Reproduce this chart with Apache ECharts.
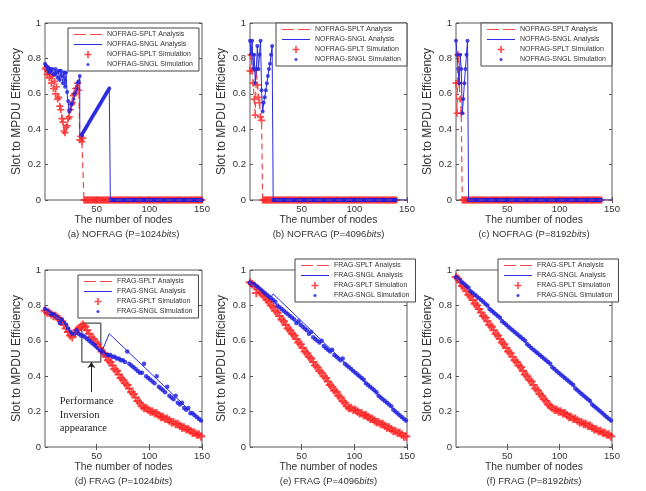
<!DOCTYPE html>
<html>
<head>
<meta charset="utf-8">
<script src="https://cdn.jsdelivr.net/npm/echarts@6/dist/echarts.min.js"></script>
<style>
html,body{margin:0;padding:0;background:#fff;}
#chart{width:646px;height:491px;}
</style>
</head>
<body>
<div id="chart"></div>
<script>
// ---------------- DATA ----------------
const xTicks = [50, 100, 150];
const captions = [
  '(a) NOFRAG (P=1024{i|bits})', '(b) NOFRAG (P=4096{i|bits})', '(c) NOFRAG (P=8192{i|bits})',
  '(d) FRAG (P=1024{i|bits})', '(e) FRAG (P=4096{i|bits})', '(f) FRAG (P=8192{i|bits})'
];
const panelIds = ['a', 'b', 'c', 'd', 'e', 'f'];
const seriesNamesNofrag = ['NOFRAG-SPLT Analysis', 'NOFRAG-SNGL Analysis', 'NOFRAG-SPLT Simulation', 'NOFRAG-SNGL Simulation'];
const seriesNamesFrag = ['FRAG-SPLT Analysis', 'FRAG-SNGL Analysis', 'FRAG-SPLT Simulation', 'FRAG-SNGL Simulation'];
const xLabel = 'The number of nodes';
const yLabel = 'Slot to MPDU Efficiency';
const noteText = 'Performance\nInversion\nappearance';

// --- (a) NOFRAG P=1024 ---
const aSpltAnaX = [1,2,3,4,5,6,7,8,9,10,11,12,13,14,15,16,17,18,19,20,21,22,23,24,25,26,27,28,29,30,31,32,33,34,35,36,37,38,150];
const aSpltAnaY = [0.75,0.74,0.72,0.73,0.70,0.71,0.68,0.69,0.65,0.66,0.62,0.63,0.58,0.57,0.55,0.52,0.48,0.45,0.40,0.38,0.40,0.43,0.45,0.48,0.51,0.53,0.56,0.58,0.60,0.62,0.64,0.66,0.64,0.36,0.35,0.34,0.35,0,0];
const aSnglAnaX = [1,2,3,4,5,6,7,8,9,10,11,12,13,14,15,16,17,18,19,20,21,22,23,24,25,26,27,28,29,30,31,32,33,34,34,62,63,150];
const aSnglAnaY = [0.77,0.77,0.73,0.75,0.72,0.75,0.72,0.74,0.71,0.70,0.74,0.71,0.69,0.73,0.67,0.74,0.70,0.66,0.73,0.64,0.72,0.60,0.55,0.49,0.51,0.53,0.55,0.57,0.59,0.61,0.63,0.65,0.67,0.70,0.36,0.64,0,0];
const aSpltSim = [
  0.74,0.75,0.71,0.73,0.69,0.71,0.66,0.70,0.63,0.67,
  0.60,0.64,0.57,0.58,0.53,0.51,0.46,0.44,0.39,0.38,
  0.41,0.42,0.46,0.47,0.51,0.54,0.55,0.59,0.60,0.63,
  0.63,0.66,0.62,0.34,0.36,0.33,0.35,0,0,0,
  0,0,0,0,0,0,0,0,0,0, 0,0,0,0,0,0,0,0,0,0,
  0,0,0,0,0,0,0,0,0,0, 0,0,0,0,0,0,0,0,0,0,
  0,0,0,0,0,0,0,0,0,0, 0,0,0,0,0,0,0,0,0,0,
  0,0,0,0,0,0,0,0,0,0, 0,0,0,0,0,0,0,0,0,0,
  0,0,0,0,0,0,0,0,0,0, 0,0,0,0,0,0,0,0,0,0,
  0,0,0,0,0,0,0,0,0,0
];
const aSnglSim = [
  0.77,0.76,0.73,0.75,0.72,0.74,0.73,0.74,0.71,0.71,
  0.74,0.72,0.69,0.73,0.68,0.73,0.70,0.66,0.72,0.64,
  0.72,0.61,0.56,0.50,0.51,0.54,0.55,0.57,0.60,0.61,
  0.63,0.66,0.67,0.70,0.36,0.37,0.38,0.39,0.40,0.41,
  0.42,0.43,0.44,0.45,0.46,0.47,0.48,0.49,0.50,0.51,
  0.52,0.53,0.54,0.55,0.56,0.57,0.58,0.59,0.60,0.61,
  0.62,0.63,0,0,0,0,0,0,0,0,
  0,0,0,0,0,0,0,0,0,0, 0,0,0,0,0,0,0,0,0,0,
  0,0,0,0,0,0,0,0,0,0, 0,0,0,0,0,0,0,0,0,0,
  0,0,0,0,0,0,0,0,0,0, 0,0,0,0,0,0,0,0,0,0,
  0,0,0,0,0,0,0,0,0,0, 0,0,0,0,0,0,0,0,0,0
];

// --- (b) NOFRAG P=4096 ---
const bSpltAnaX = [1,2,3,4,5,6,7,8,9,10,11,12,13,150];
const bSpltAnaY = [0.73,0.82,0.73,0.66,0.58,0.49,0.73,0.66,0.58,0.55,0.48,0.45,0,0];
const bSnglAnaX = [1,2,3,4,5,6,7,8,9,10,11,12,13,14,15,16,17,18,19,20,21,22,23,150];
const bSnglAnaY = [0.90,0.82,0.90,0.74,0.82,0.66,0.74,0.87,0.74,0.82,0.90,0.62,0.50,0.55,0.58,0.62,0.66,0.70,0.74,0.77,0.82,0.87,0,0];
const bSpltSim = [
  0.73,0.82,0.73,0.66,0.57,0.48,0.74,0.65,0.58,0.55,
  0.47,0.45,0,0,0,0,0,0,0,0,
  0,0,0,0,0,0,0,0,0,0, 0,0,0,0,0,0,0,0,0,0,
  0,0,0,0,0,0,0,0,0,0, 0,0,0,0,0,0,0,0,0,0,
  0,0,0,0,0,0,0,0,0,0, 0,0,0,0,0,0,0,0,0,0,
  0,0,0,0,0,0,0,0,0,0, 0,0,0,0,0,0,0,0,0,0,
  0,0,0,0,0,0,0,0,0,0, 0,0,0,0,0,0,0,0,0,0,
  0,0,0,0,0,0,0,0,0,0, 0,0,0,0,0,0,0,0,0,0
];
const bSnglSim = [
  0.90,0.82,0.90,0.74,0.82,0.66,0.74,0.87,0.74,0.82,
  0.90,0.62,0.50,0.55,0.58,0.62,0.66,0.70,0.74,0.77,
  0.82,0.87,0,0,0,0,0,0,0,0,
  0,0,0,0,0,0,0,0,0,0, 0,0,0,0,0,0,0,0,0,0,
  0,0,0,0,0,0,0,0,0,0, 0,0,0,0,0,0,0,0,0,0,
  0,0,0,0,0,0,0,0,0,0, 0,0,0,0,0,0,0,0,0,0,
  0,0,0,0,0,0,0,0,0,0, 0,0,0,0,0,0,0,0,0,0,
  0,0,0,0,0,0,0,0,0,0, 0,0,0,0,0,0,0,0,0,0,
  0,0,0,0,0,0,0,0,0,0
];

// --- (c) NOFRAG P=8192 ---
const cSpltAnaX = [1,2,3,4,5,6,7,150];
const cSpltAnaY = [0.66,0.49,0.82,0.66,0.57,0.49,0,0];
const cSnglAnaX = [1,2,3,4,5,6,7,8,9,10,11,12,13,150];
const cSnglAnaY = [0.90,0.82,0.74,0.66,0.82,0.74,0.49,0.57,0.66,0.74,0.82,0.90,0,0];
const cSpltSim = [
  0.66,0.49,0.82,0.66,0.57,0.49,0,0,0,0,
  0,0,0,0,0,0,0,0,0,0, 0,0,0,0,0,0,0,0,0,0,
  0,0,0,0,0,0,0,0,0,0, 0,0,0,0,0,0,0,0,0,0,
  0,0,0,0,0,0,0,0,0,0, 0,0,0,0,0,0,0,0,0,0,
  0,0,0,0,0,0,0,0,0,0, 0,0,0,0,0,0,0,0,0,0,
  0,0,0,0,0,0,0,0,0,0, 0,0,0,0,0,0,0,0,0,0,
  0,0,0,0,0,0,0,0,0,0, 0,0,0,0,0,0,0,0,0,0,
  0,0,0,0,0,0,0,0,0,0
];
const cSnglSim = [
  0.90,0.82,0.74,0.66,0.82,0.74,0.49,0.57,0.66,0.74,
  0.82,0.90,0,0,0,0,0,0,0,0,
  0,0,0,0,0,0,0,0,0,0, 0,0,0,0,0,0,0,0,0,0,
  0,0,0,0,0,0,0,0,0,0, 0,0,0,0,0,0,0,0,0,0,
  0,0,0,0,0,0,0,0,0,0, 0,0,0,0,0,0,0,0,0,0,
  0,0,0,0,0,0,0,0,0,0, 0,0,0,0,0,0,0,0,0,0,
  0,0,0,0,0,0,0,0,0,0, 0,0,0,0,0,0,0,0,0,0,
  0,0,0,0,0,0,0,0,0,0, 0,0,0,0,0,0,0,0,0,0
];

// --- (d) FRAG P=1024 (simulation sampled at odd node counts 1,3,...,149) ---
const dSpltAnaX = [1,10,15,18,21,24,26,28,31,34,37,55,93,122,150];
const dSpltAnaY = [0.77,0.74,0.72,0.70,0.67,0.64,0.62,0.63,0.66,0.68,0.69,0.54,0.23,0.14,0.06];
const dSnglAnaX = [1,10,14,16,18,22,25,28,31,34,40,47,55,62,150];
const dSnglAnaY = [0.78,0.74,0.73,0.70,0.72,0.68,0.65,0.63,0.66,0.64,0.62,0.58,0.54,0.64,0.14];
const dSpltSim = [
  0.77,0.76,0.76,0.75,0.74,0.74,0.73,0.72,0.71,0.69,
  0.67,0.65,0.63,0.62,0.64,0.66,0.67,0.68,0.69,0.68,
  0.66,0.64,0.62,0.61,0.59,0.58,0.56,0.54,0.53,0.51,
  0.49,0.48,0.46,0.44,0.43,0.41,0.39,0.38,0.36,0.35,
  0.33,0.31,0.30,0.28,0.26,0.25,0.23,0.22,0.22,0.21,
  0.20,0.20,0.19,0.19,0.18,0.17,0.17,0.16,0.16,0.15,
  0.14,0.14,0.13,0.13,0.12,0.11,0.11,0.10,0.10,0.09,
  0.08,0.08,0.07,0.07,0.06
];
const dSnglSim = [
  0.78,0.77,0.76,0.75,0.75,0.74,0.73,0.70,0.72,0.70,
  0.69,0.67,0.65,0.64,0.64,0.66,0.64,0.63,0.63,0.62,
  0.61,0.60,0.59,0.58,0.57,0.56,0.55,0.54,0.53,0.52,
  0.52,0.52,0.51,0.51,0.50,0.50,0.49,0.49,0.48,0.54,
  0.47,0.46,0.45,0.44,0.43,0.42,0.42,0.47,0.40,0.39,
  0.38,0.37,0.36,0.40,0.34,0.33,0.32,0.31,0.34,0.29,
  0.28,0.27,0.29,0.25,0.24,0.25,0.22,0.21,0.22,0.19,
  0.19,0.18,0.17,0.16,0.15
];

// --- (e) FRAG P=4096 ---
const eSpltAnaX = [1,10,20,30,40,50,60,70,80,90,94,122,150];
const eSpltAnaY = [0.93,0.88,0.81,0.73,0.65,0.57,0.49,0.41,0.34,0.26,0.23,0.14,0.06];
const eSnglAnaX = [1,12,20,21,23,150];
const eSnglAnaY = [0.93,0.89,0.84,0.83,0.865,0.14];
const eSpltSim = [
  0.93,0.92,0.91,0.87,0.89,0.87,0.86,0.85,0.83,0.82,
  0.80,0.79,0.77,0.76,0.74,0.72,0.71,0.69,0.67,0.66,
  0.64,0.63,0.61,0.59,0.58,0.56,0.54,0.53,0.51,0.50,
  0.48,0.46,0.45,0.43,0.42,0.40,0.39,0.37,0.35,0.34,
  0.32,0.31,0.29,0.28,0.26,0.25,0.23,0.22,0.22,0.21,
  0.21,0.20,0.19,0.19,0.18,0.18,0.17,0.16,0.16,0.15,
  0.14,0.14,0.13,0.13,0.12,0.11,0.11,0.10,0.09,0.09,
  0.08,0.08,0.07,0.06,0.06
];
const eSnglSim = [
  0.93,0.92,0.92,0.91,0.90,0.89,0.88,0.87,0.86,0.85,
  0.84,0.83,0.82,0.80,0.79,0.78,0.77,0.76,0.75,0.74,
  0.73,0.72,0.70,0.71,0.69,0.68,0.67,0.66,0.64,0.65,
  0.62,0.61,0.60,0.59,0.60,0.57,0.56,0.55,0.54,0.55,
  0.52,0.51,0.50,0.49,0.50,0.47,0.46,0.45,0.44,0.43,
  0.42,0.41,0.40,0.39,0.38,0.36,0.35,0.34,0.33,0.32,
  0.31,0.29,0.28,0.27,0.26,0.25,0.24,0.23,0.21,0.20,
  0.19,0.18,0.17,0.16,0.15
];

// --- (f) FRAG P=8192 ---
const fSpltAnaX = [1,10,20,30,40,50,60,70,80,92,150];
const fSpltAnaY = [0.96,0.89,0.80,0.71,0.63,0.55,0.47,0.39,0.31,0.22,0.06];
const fSnglAnaX = [1,20,40,60,80,100,125,150];
const fSnglAnaY = [0.96,0.86,0.75,0.63,0.52,0.42,0.28,0.14];
const fSpltSim = [
  0.96,0.95,0.93,0.91,0.90,0.88,0.86,0.85,0.83,0.81,
  0.80,0.78,0.76,0.74,0.73,0.71,0.69,0.68,0.66,0.64,
  0.63,0.61,0.59,0.58,0.56,0.54,0.53,0.51,0.49,0.48,
  0.46,0.45,0.43,0.41,0.40,0.38,0.37,0.35,0.33,0.32,
  0.30,0.29,0.27,0.26,0.24,0.23,0.22,0.21,0.21,0.20,
  0.20,0.19,0.19,0.18,0.17,0.17,0.16,0.16,0.15,0.14,
  0.14,0.13,0.13,0.12,0.12,0.11,0.10,0.10,0.09,0.09,
  0.08,0.08,0.07,0.07,0.06
];
const fSnglSim = [
  0.96,0.95,0.94,0.93,0.92,0.91,0.90,0.88,0.87,0.86,
  0.85,0.84,0.83,0.82,0.81,0.80,0.78,0.77,0.76,0.75,
  0.74,0.73,0.71,0.70,0.69,0.68,0.67,0.66,0.65,0.64,
  0.63,0.62,0.61,0.60,0.58,0.57,0.56,0.55,0.54,0.53,
  0.52,0.51,0.50,0.49,0.48,0.47,0.45,0.44,0.43,0.42,
  0.41,0.40,0.39,0.38,0.37,0.36,0.35,0.33,0.32,0.31,
  0.30,0.29,0.28,0.27,0.26,0.24,0.23,0.22,0.21,0.20,
  0.19,0.18,0.17,0.16,0.15
];

// Annotation in panel (d): box, arrow, text (data coordinates)
const noteBox = [[36, 0.70], [54, 0.48]];
const noteArrow = [[45, 0.31], [45, 0.48]];
const noteAnchor = [15, 0.18];

// ---------------- BUILD ----------------
const nodesEvery = []; for (let n = 1; n <= 150; n++) nodesEvery.push(n);
const nodesOdd = []; for (let n = 1; n <= 149; n += 2) nodesOdd.push(n);
const zipXY = (xs, ys) => ys.map((y, i) => [xs[i], y]);

const panels = [
  {names: seriesNamesNofrag, spltAna: [aSpltAnaX, aSpltAnaY], snglAna: [aSnglAnaX, aSnglAnaY], spltSim: [nodesEvery, aSpltSim], snglSim: [nodesEvery, aSnglSim], dense: false},
  {names: seriesNamesNofrag, spltAna: [bSpltAnaX, bSpltAnaY], snglAna: [bSnglAnaX, bSnglAnaY], spltSim: [nodesEvery, bSpltSim], snglSim: [nodesEvery, bSnglSim], dense: false},
  {names: seriesNamesNofrag, spltAna: [cSpltAnaX, cSpltAnaY], snglAna: [cSnglAnaX, cSnglAnaY], spltSim: [nodesEvery, cSpltSim], snglSim: [nodesEvery, cSnglSim], dense: false},
  {names: seriesNamesFrag, spltAna: [dSpltAnaX, dSpltAnaY], snglAna: [dSnglAnaX, dSnglAnaY], spltSim: [nodesOdd, dSpltSim], snglSim: [nodesOdd, dSnglSim], dense: true},
  {names: seriesNamesFrag, spltAna: [eSpltAnaX, eSpltAnaY], snglAna: [eSnglAnaX, eSnglAnaY], spltSim: [nodesOdd, eSpltSim], snglSim: [nodesOdd, eSnglSim], dense: true},
  {names: seriesNamesFrag, spltAna: [fSpltAnaX, fSpltAnaY], snglAna: [fSnglAnaX, fSnglAnaY], spltSim: [nodesOdd, fSpltSim], snglSim: [nodesOdd, fSnglSim], dense: true}
];

// layout
const gridBoxes = [
  {left: 45, top: 23, width: 157, height: 177},
  {left: 250, top: 23, width: 157, height: 177},
  {left: 456, top: 23, width: 156, height: 177},
  {left: 45, top: 270, width: 157, height: 177},
  {left: 250, top: 270, width: 157, height: 177},
  {left: 456, top: 270, width: 156, height: 177}
];
const legendPos = [
  {left: 68, top: 28}, {left: 276, top: 23}, {left: 481, top: 23},
  {left: 78, top: 275}, {left: 295, top: 259}, {left: 498, top: 259}
];
const LEG_PAD = [3, 6, 3, 6], LEG_ICON_W = 28, LEG_ICON_H = 7, LEG_GAP = 3;
const FONT = '"Liberation Sans", Arial, sans-serif';
const RED = '#ff1f1f', RED_LINE = '#f04848', BLUE = '#1a1ae0', BLUE_LINE = '#2b2be0';
// legend key colours: visually the same as the lines, each panel its own exact value
const KEY_RED = ['rgb(241,73,73)', 'rgb(242,74,74)', 'rgb(243,75,75)', 'rgb(241,75,73)', 'rgb(242,73,75)', 'rgb(243,74,73)'];
const KEY_BLUE = ['rgb(44,44,225)', 'rgb(45,45,226)', 'rgb(46,46,227)', 'rgb(44,46,225)', 'rgb(45,44,227)', 'rgb(46,45,225)'];
const PLUS = 'path://M0,3.8H10V6.2H0Z M3.8,0H6.2V10H3.8Z';
const DOT_ICON = 'path://M0,0M10,10M2.7,5A2.3,2.3 0 1 0 7.3,5A2.3,2.3 0 1 0 2.7,5Z';
const EMPTY_ICON = 'path://M0,0M28,7';
const redDash = () => ({color: RED_LINE, width: 1.2, type: [6, 4]});
const blueSolid = () => ({color: BLUE_LINE, width: 1, type: 'solid'});
const uid = (i, name) => panelIds[i] + '|' + name;
const plainName = (name) => name.slice(name.indexOf('|') + 1);

const option = {
  backgroundColor: '#fff', animation: false,
  grid: [], xAxis: [], yAxis: [], series: [], legend: [], graphic: []
};

panels.forEach((p, i) => {
  const g = gridBoxes[i];
  option.grid.push(Object.assign({show: true, borderColor: '#5a5a5a', borderWidth: 1, backgroundColor: '#fff'}, g));
  const tick = () => ({inside: true, length: 3, lineStyle: {color: '#555', width: 1}});
  option.xAxis.push({gridIndex: i, type: 'value', min: 1, max: 150, position: 'bottom',
    axisLine: {show: false}, splitLine: {show: false},
    axisTick: Object.assign({customValues: xTicks}, tick()),
    axisLabel: {customValues: xTicks, fontSize: 9.5, color: '#333', margin: 4, fontFamily: FONT}});
  option.xAxis.push({gridIndex: i, type: 'value', min: 1, max: 150, position: 'top',
    axisLine: {show: false}, splitLine: {show: false},
    axisTick: Object.assign({customValues: xTicks}, tick()), axisLabel: {show: false}});
  option.yAxis.push({gridIndex: i, type: 'value', min: 0, max: 1, interval: 0.2, position: 'left',
    name: yLabel, nameLocation: 'middle', nameGap: 22,
    nameTextStyle: {fontSize: 12, color: '#333', fontFamily: FONT},
    axisLine: {show: false}, splitLine: {show: false}, axisTick: tick(),
    axisLabel: {fontSize: 9.5, color: '#333', margin: 4, fontFamily: FONT}});
  option.yAxis.push({gridIndex: i, type: 'value', min: 0, max: 1, interval: 0.2, position: 'right',
    axisLine: {show: false}, splitLine: {show: false}, axisTick: tick(), axisLabel: {show: false}});

  const ax = () => ({xAxisIndex: 2 * i, yAxisIndex: 2 * i, silent: true});
  // legend-entry proxies for the analysis lines (no marks of their own)
  option.series.push(Object.assign({type: 'scatter', name: uid(i, p.names[0]), data: [], symbol: EMPTY_ICON, itemStyle: {color: RED_LINE}}, ax()));
  option.series.push(Object.assign({type: 'scatter', name: uid(i, p.names[1]), data: [], symbol: EMPTY_ICON, itemStyle: {color: BLUE_LINE}}, ax()));

  option.series.push(Object.assign({type: 'scatter', name: uid(i, p.names[2]), data: zipXY(p.spltSim[0], p.spltSim[1]),
    symbol: PLUS, symbolSize: p.dense ? 8.5 : 7, itemStyle: {color: RED}, z: 2}, ax()));
  option.series.push(Object.assign({type: 'scatter', name: uid(i, p.names[3]), data: zipXY(p.snglSim[0], p.snglSim[1]),
    symbol: 'circle', symbolSize: p.dense ? 4.5 : 4, itemStyle: {color: BLUE}, z: 3}, ax()));

  // legend line keys, placed in the legend's icon slots
  const lp = legendPos[i];
  const keyX1 = lp.left + LEG_PAD[3], keyX2 = keyX1 + LEG_ICON_W;
  const rowY = (k) => lp.top + LEG_PAD[0] + LEG_ICON_H / 2 + k * (LEG_ICON_H + LEG_GAP);
  const spltLine = Object.assign({type: 'line', name: uid(i, p.names[0]) + ' line', data: zipXY(p.spltAna[0], p.spltAna[1]),
    symbol: 'none', itemStyle: {color: RED_LINE}, lineStyle: redDash(), z: 6, clip: false}, ax());
  spltLine.markLine = {silent: true, symbol: 'none', label: {show: false}, animation: false,
    data: [
      [{x: keyX1, y: rowY(0), lineStyle: {color: KEY_RED[i], width: 1.2, type: [12, 4]}}, {x: keyX2, y: rowY(0)}],
      [{x: keyX1, y: rowY(1), lineStyle: {color: KEY_BLUE[i], width: 1, type: 'solid'}}, {x: keyX2, y: rowY(1)}]
    ]};
  option.series.push(spltLine);

  const snglLine = Object.assign({type: 'line', name: uid(i, p.names[1]) + ' line', data: zipXY(p.snglAna[0], p.snglAna[1]),
    symbol: 'none', itemStyle: {color: BLUE_LINE}, lineStyle: blueSolid(), z: 7}, ax());
  if (i === 3) {
    snglLine.markArea = {silent: true, itemStyle: {color: 'rgba(0,0,0,0)', borderColor: '#222', borderWidth: 1},
      data: [[{coord: noteBox[0]}, {coord: noteBox[1]}]]};
    snglLine.markLine = {silent: true, symbol: ['none', 'arrow'], symbolSize: 6, label: {show: false},
      lineStyle: {color: '#222', width: 1, type: 'solid'},
      data: [[{coord: noteArrow[0]}, {coord: noteArrow[1]}]]};
    snglLine.markPoint = {silent: true, symbol: 'circle', symbolSize: 0,
      label: {show: true, position: 'right', distance: 0, formatter: noteText, color: '#222',
        fontFamily: '"Liberation Serif", "Times New Roman", serif', fontSize: 10.5, lineHeight: 13.5, align: 'left'},
      data: [{coord: noteAnchor}]};
  }
  option.series.push(snglLine);

  option.legend.push({
    orient: 'vertical', left: lp.left, top: lp.top, z: 4,
    itemWidth: LEG_ICON_W, itemHeight: LEG_ICON_H, itemGap: LEG_GAP, padding: LEG_PAD,
    backgroundColor: '#fff', borderColor: '#444', borderWidth: 1, selectedMode: false,
    textStyle: {fontSize: 7, color: '#333', fontFamily: FONT},
    formatter: plainName,
    data: [
      {name: uid(i, p.names[0]), icon: EMPTY_ICON},
      {name: uid(i, p.names[1]), icon: EMPTY_ICON},
      {name: uid(i, p.names[2]), icon: PLUS, itemStyle: {color: RED, borderWidth: 0}},
      {name: uid(i, p.names[3]), icon: DOT_ICON, itemStyle: {color: BLUE, borderWidth: 0}}
    ]
  });

  const cx = g.left + g.width / 2;
  const baseY = g.top + g.height;
  option.graphic.push({type: 'text', x: cx, y: baseY + 20, silent: true,
    style: {text: xLabel, fill: '#333', font: '10.3px ' + FONT, align: 'center', verticalAlign: 'middle'}});
  option.graphic.push({type: 'text', x: cx, y: baseY + 34, silent: true,
    style: {text: captions[i], fill: '#333', font: '9.5px ' + FONT, align: 'center', verticalAlign: 'middle',
      rich: {i: {fontStyle: 'italic', fontSize: 9.5, fontFamily: FONT, fill: '#333'}}}});
});

const chart = echarts.init(document.getElementById('chart'), null, {renderer: 'canvas'});
chart.setOption(option);
</script>
</body>
</html>
